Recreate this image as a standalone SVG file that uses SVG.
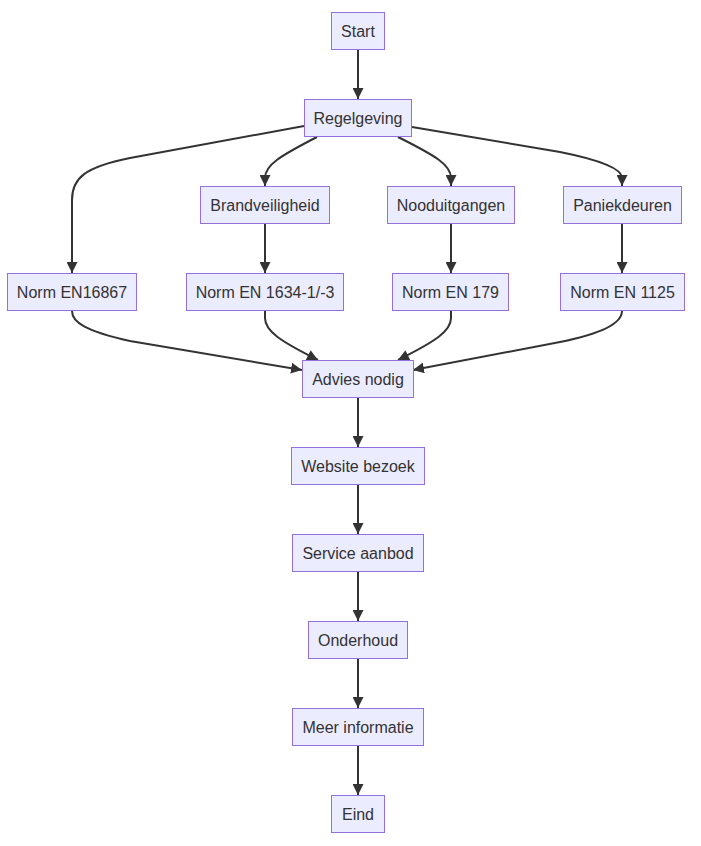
<svg xmlns="http://www.w3.org/2000/svg" width="701" height="846" viewBox="0 0 701 846">
<defs>
<style>
.node rect{fill:#ECECFF;stroke:#9370DB;stroke-width:1px}
.node text{font-family:"Liberation Sans",Arial,sans-serif;font-size:16px;fill:#333;text-anchor:middle}
.edges path{fill:none;stroke:#333;stroke-width:2px;marker-end:url(#arrow)}
</style>
<marker id="arrow" viewBox="0 0 10 10" refX="10" refY="5" markerUnits="userSpaceOnUse" markerWidth="11" markerHeight="11" orient="auto">
<path d="M0,0 L10,5 L0,10 z" fill="#333"/>
</marker>
</defs>
<rect width="701" height="846" fill="#fff"/>
<g class="edges">
<path d="M358,49 L358,99"/>
<path d="M304,126 L130,158 C85,167 72,178 72,200 L72,273"/>
<path d="M317,137 C280,156 265,165 265,178 L265,186"/>
<path d="M398,137 C436,156 451,165 451,178 L451,186"/>
<path d="M412,127 L560,152 C605,161 622,170 622,178 L622,186"/>
<path d="M265,223 L265,273"/>
<path d="M451,223 L451,273"/>
<path d="M622,223 L622,273"/>
<path d="M72,311 C72,322 85,331 130,341 L302,370"/>
<path d="M265,311 L265,318 C265,331 280,341 318,360"/>
<path d="M451,311 L451,318 C451,331 436,341 398,360"/>
<path d="M622,311 C622,322 605,333 560,342 L413,370"/>
<path d="M358,398 L358,447"/>
<path d="M358,485 L358,534"/>
<path d="M358,572 L358,621"/>
<path d="M358,659 L358,708"/>
<path d="M358,746 L358,795"/>
</g>
<g id="start" class="node"><rect x="331.5" y="12.5" width="53" height="37"/><text x="358" y="36.5">Start</text></g>
<g id="regelgeving" class="node"><rect x="304.5" y="99.5" width="107" height="37"/><text x="358" y="123.5">Regelgeving</text></g>
<g id="brandveiligheid" class="node"><rect x="200.5" y="186.5" width="129" height="37"/><text x="265" y="210.5">Brandveiligheid</text></g>
<g id="nooduitgangen" class="node"><rect x="387.5" y="186.5" width="127" height="37"/><text x="451" y="210.5">Nooduitgangen</text></g>
<g id="paniekdeuren" class="node"><rect x="563.5" y="186.5" width="118" height="37"/><text x="622.5" y="210.5">Paniekdeuren</text></g>
<g id="en16867" class="node"><rect x="7.5" y="273.5" width="129" height="37"/><text x="72" y="297.5">Norm EN16867</text></g>
<g id="en1634" class="node"><rect x="186.5" y="273.5" width="157" height="37"/><text x="265" y="297.5">Norm EN 1634-1/-3</text></g>
<g id="en179" class="node"><rect x="392.5" y="273.5" width="116" height="37"/><text x="450.5" y="297.5">Norm EN 179</text></g>
<g id="en1125" class="node"><rect x="560.5" y="273.5" width="124" height="37"/><text x="622.5" y="297.5">Norm EN 1125</text></g>
<g id="advies" class="node"><rect x="302.5" y="360.5" width="111" height="37"/><text x="358" y="384.5">Advies nodig</text></g>
<g id="website" class="node"><rect x="291.5" y="447.5" width="133" height="37"/><text x="358" y="471.5">Website bezoek</text></g>
<g id="service" class="node"><rect x="292.5" y="534.5" width="131" height="37"/><text x="358" y="558.5">Service aanbod</text></g>
<g id="onderhoud" class="node"><rect x="308.5" y="621.5" width="99" height="37"/><text x="358" y="645.5">Onderhoud</text></g>
<g id="meer" class="node"><rect x="292.5" y="708.5" width="131" height="37"/><text x="358" y="732.5">Meer informatie</text></g>
<g id="eind" class="node"><rect x="331.5" y="795.5" width="53" height="37"/><text x="358" y="819.5">Eind</text></g>
</svg>
